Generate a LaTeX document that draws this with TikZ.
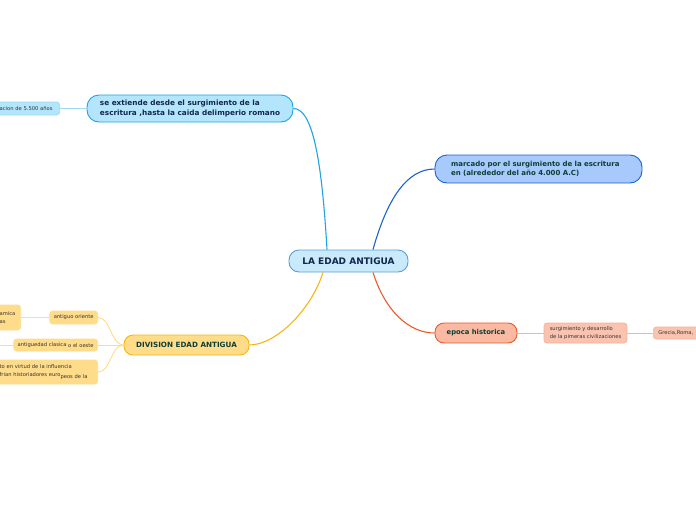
\documentclass[tikz,border=0pt]{standalone}
\usepackage{fontspec}
\setmainfont{DejaVu Sans}

\definecolor{centrefill}{HTML}{C8EAFB}
\definecolor{centreline}{HTML}{5A9ED6}
\definecolor{centretext}{HTML}{14264C}
\definecolor{skyfill}{HTML}{B3E5FC}
\definecolor{skyline}{HTML}{1FA3E4}
\definecolor{skysoft}{HTML}{9ED8F5}
\definecolor{bluefill}{HTML}{A8C9FC}
\definecolor{blueline}{HTML}{1A62CF}
\definecolor{salmonfill}{HTML}{F9B9A2}
\definecolor{salmonline}{HTML}{EC5A2A}
\definecolor{salmonsoft}{HTML}{F7B29A}
\definecolor{goldfill}{HTML}{FFDC8A}
\definecolor{goldline}{HTML}{F7B512}
\definecolor{goldsoft}{HTML}{FDDC8E}
\definecolor{darkgreen}{HTML}{0D3F36}
\definecolor{smalltext}{HTML}{333333}

\begin{document}
\begin{tikzpicture}[x=1pt,y=-1pt,
  bigbox/.style={draw, line width=0.9pt, font=\bfseries\fontsize{7}{9}\selectfont,
    text=darkgreen, inner ysep=0pt},
  leafbox/.style={draw, line width=0.7pt, rounded corners=3pt,
    font=\fontsize{5.2}{8}\selectfont, text=smalltext, inner ysep=0pt, align=left},
  link/.style={line width=1.1pt},
  twig/.style={line width=0.9pt}]

\useasboundingbox (0,0) rectangle (696,520);
\clip (0,0) rectangle (696,520);

% Centre
\node[bigbox, fill=centrefill, draw=centreline, text=centretext,
  rounded corners=10pt, minimum width=119pt, minimum height=22pt,
  font=\bfseries\fontsize{9}{10}\selectfont]
  (edad) at (348.5,261) {LA EDAD ANTIGUA};

% Main topics
\node[bigbox, fill=skyfill, draw=skyline, text=centretext, rounded corners=12pt,
  minimum height=27pt, minimum width=206pt, align=left,
  font=\bfseries\fontsize{7.3}{9.3}\selectfont]
  (escritura) at (190,108.5)
  {se extiende desde el surgimiento de la\\escritura ,hasta la caida delimperio romano};

\node[bigbox, fill=bluefill, draw=blueline, rounded corners=12pt,
  minimum height=28pt, inner xsep=16pt, text width=175pt, align=left]
  (marcado) at (538.5,169)
  {marcado por el surgimiento de la escritura\\en (alrededor del año 4.000 A.C)};

\node[bigbox, fill=salmonfill, draw=salmonline, rounded corners=9pt,
  minimum width=82pt, minimum height=20pt, font=\bfseries\fontsize{6.8}{8}\selectfont]
  (epoca) at (476,333) {epoca historica};

\node[bigbox, fill=goldfill, draw=goldline, rounded corners=9pt,
  minimum width=125pt, minimum height=20pt, font=\bfseries\fontsize{7.2}{8}\selectfont]
  (division) at (186.5,345) {DIVISION EDAD ANTIGUA};

% Leaves
\node[leafbox, fill=skyfill, draw=skysoft, minimum height=13pt,
  inner xsep=6pt, text width=54pt, anchor=east]
  (duracion) at (60,108.5) {acion de 5.500 años};

\node[leafbox, fill=salmonfill!85!white, draw=salmonsoft, minimum height=20pt,
  minimum width=83pt]
  (desarrollo) at (585.5,333) {surgimiento y desarrollo\\de la pimeras civilizaciones};

\node[leafbox, fill=salmonfill!85!white, draw=salmonsoft, minimum height=12pt,
  inner xsep=5pt, text width=50pt, anchor=west]
  (grecia) at (653,333) {Grecia,Roma,};

\node[leafbox, fill=goldfill, draw=goldsoft, minimum height=13pt,
  inner xsep=4pt, anchor=east]
  (oriente) at (98,317.5) {antiguo oriente};

\node[leafbox, fill=goldfill, draw=goldsoft, minimum height=25pt,
  inner xsep=4pt, text width=17pt, anchor=east]
  (mesopo) at (21,317.5) {amica\\as};

\node[leafbox, fill=goldfill, draw=goldsoft, minimum height=12pt,
  inner xsep=4pt, anchor=east]
  (clasica) at (98,345) {antiguedad clasica \raisebox{-1.3pt}{o el oeste}};

\node[leafbox, fill=goldfill, draw=goldsoft, minimum height=24pt,
  inner xsep=4pt, text width=94pt, anchor=east]
  (virtud) at (98,372)
  {to en virtud de la influencia\\frian historiadores euro\raisebox{-1.5pt}{peos de la}};

\coordinate (clasicaoff) at (-10,345);

% Links from the centre
\draw[link, skyline] ([xshift=-21.5pt]edad.north)
  .. controls +(-5,-85) and +(20,0) .. (escritura.east);
\draw[link, blueline] ([xshift=24.5pt]edad.north)
  .. controls +(14,-50) and +(-28,0) .. (marcado.west);
\draw[link, salmonline] ([xshift=24.5pt]edad.south)
  .. controls +(12,38) and +(-26,0) .. (epoca.west);
\draw[link, goldline] ([xshift=-25.5pt]edad.south)
  .. controls +(-12,38) and +(26,0) .. (division.east);

% Twigs
\draw[twig, skysoft] (escritura.west) -- (duracion.east);
\draw[twig, salmonsoft] (epoca.east) -- (desarrollo.west);
\draw[twig, salmonsoft] (desarrollo.east) -- (grecia.west);
\draw[twig, goldsoft] (division.west)
  .. controls +(-13,0) and +(13,0) .. (oriente.east);
\draw[twig, goldsoft] (division.west) -- (clasica.east);
\draw[twig, goldsoft] (division.west)
  .. controls +(-13,0) and +(13,0) .. (virtud.east);
\draw[twig, goldsoft] (oriente.west) -- (mesopo.east);
\draw[twig, goldsoft] (clasica.west) -- (clasicaoff);

\end{tikzpicture}
\end{document}
